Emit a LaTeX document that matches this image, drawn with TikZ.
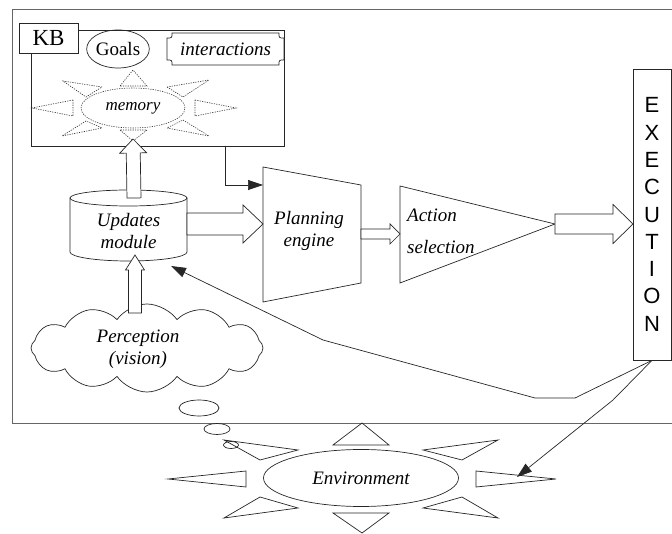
\documentclass[tikz,border=0pt]{standalone}
\usepackage{fontspec}
\setmainfont{Liberation Serif}
\newfontfamily\arialf{Liberation Sans}
\usetikzlibrary{calc,shapes.geometric,shapes.symbols,arrows.meta}

\newcommand\blockarrow[5]{%
  \coordinate (ba-hb) at ($(#2)!#5!(#1)$);
  \draw[barrow] ($(#1)!#3!90:(#2)$) -- ($(ba-hb)!#3!90:(#2)$) -- ($(ba-hb)!#4!90:(#2)$) -- (#2)
    -- ($(ba-hb)!#4!-90:(#2)$) -- ($(ba-hb)!#3!-90:(#2)$) -- ($(#1)!#3!-90:(#2)$) -- cycle;
}

\tikzset{
  ln/.style={draw=black!85, line width=0.7pt},
  barrow/.style={ln, fill=white, line join=miter},
  ray/.style={ln},
  dray/.style={draw=black!80, line width=0.6pt, dash pattern=on 1.2pt off 1.2pt},
  txt/.style={font=\fontsize{19}{22}\selectfont, align=center, inner sep=0pt},
  fb/.style={ln, -{Triangle[length=15pt,width=10pt]}},
}

\begin{document}
\begin{tikzpicture}[x=1pt,y=-1pt]
\useasboundingbox (0,0) rectangle (672,534);

% outer frame
\draw[draw=black!60, line width=1pt] (672,10) -- (12,10) -- (12,423) -- (672,423);

% KB box
\draw[ln] (31,30) rectangle (284,146);
\node[ln, fill=white, minimum width=59pt, minimum height=30pt, inner sep=0pt,
      font=\fontsize{23}{26}\selectfont] (kb) at (48.5,38) {KB};

% Goals
\node[ln, ellipse, minimum width=58pt, minimum height=38pt, inner sep=0pt,
      font=\fontsize{19}{22}\selectfont] (goals) at (118,49) {Goals};

% interactions plaque
\draw[ln] (172,33) -- (279,33) .. controls (279,38) .. (284,38) -- (284,60)
  .. controls (279,60) .. (279,65) -- (172,65) .. controls (172,60) .. (167,60)
  -- (167,38) .. controls (172,38) .. (172,33) -- cycle;
\node[txt, font=\fontsize{19}{22}\selectfont\itshape] (inter) at (225.5,49) {interactions};

% memory sun (dotted)
\node[dray, ellipse, minimum width=104pt, minimum height=40pt, inner sep=0pt,
      font=\fontsize{17}{20}\selectfont\itshape] (mem) at (133,108) {memory};
\draw[dray] (120,86)--(133,70)--(147,86)--cycle;
\draw[dray] (120,130)--(133,141)--(147,130)--cycle;
\draw[dray] (73,100)--(32,108)--(73,116)--cycle;
\draw[dray] (195,100)--(236,108)--(195,116)--cycle;
\draw[dray] (102,87)--(63,81)--(86,97)--cycle;
\draw[dray] (167,87)--(209,80)--(183,97)--cycle;
\draw[dray] (86,121)--(62,136)--(102,128)--cycle;
\draw[dray] (183,120)--(209,136)--(167,128)--cycle;

% Updates module cylinder
\draw[ln] (70,198) -- (70,252) arc[start angle=180, end angle=0, x radius=58.5, y radius=9] -- (187,198);
\draw[ln] (128.5,198) ellipse [x radius=58.5, y radius=8];
\node[txt, font=\fontsize{19}{22}\selectfont\itshape] (cyl) at (128.5,231) {Updates\\module};

% Planning engine
\draw[ln] (263,167) -- (361,185) -- (361,283) -- (263,302) -- cycle;
\node[txt, font=\fontsize{19}{22}\selectfont\itshape] (plan) at (309,231) {Planning\\engine};

% Action selection
\draw[ln] (400,186) -- (555,224) -- (400,283) -- cycle;
\node[txt, anchor=west, font=\fontsize{19}{22}\selectfont\itshape] (act1) at (407,215) {Action};
\node[txt, anchor=west, font=\fontsize{19}{22}\selectfont\itshape] (act2) at (407,247) {selection};

% EXECUTION
\node[ln, minimum width=38pt, minimum height=291pt, inner sep=0pt, align=center,
      font=\arialf\fontsize{22}{27.3}\selectfont] (exec) at (652,214.5)
      {E\\X\\E\\C\\U\\T\\I\\O\\N};

% Perception cloud
\node[ln, cloud, cloud puffs=12, cloud puff arc=110, cloud ignores aspect,
      minimum width=232pt, minimum height=88pt, inner sep=0pt] (cloud) at (147,348) {};
\node[txt, font=\fontsize{19}{22}\selectfont\itshape] (perc) at (138,349) {Perception\\(vision)};

% thought bubbles
\draw[ln] (199,408) ellipse [x radius=20, y radius=8];
\draw[ln] (217,429) ellipse [x radius=13, y radius=5.5];
\draw[ln] (231,445) ellipse [x radius=7.5, y radius=3.5];

% Environment sun
\node[ln, ellipse, minimum width=195pt, minimum height=57pt, inner sep=0pt,
      font=\fontsize{19}{22}\selectfont\itshape] (env) at (361,478) {Environment};
\draw[ray] (333,445)--(362,423)--(389,445)--cycle;
\draw[ray] (333,513)--(362,533)--(389,513)--cycle;
\draw[ray] (246,471)--(168,479)--(246,487)--cycle;
\draw[ray] (476,471)--(556,479)--(476,487)--cycle;
\draw[ray] (298,450)--(224,440)--(260,460)--cycle;
\draw[ray] (423,450)--(498,440)--(462,460)--cycle;
\draw[ray] (260,497)--(224,518)--(298,508)--cycle;
\draw[ray] (462,497)--(498,518)--(423,508)--cycle;

% block arrows
\coordinate (u1s) at (134,198);  \coordinate (u1t) at (133,139);
\coordinate (u2s) at (187,224);  \coordinate (u2t) at (263,224);
\coordinate (u3s) at (135,313);  \coordinate (u3t) at (135,255);
\coordinate (u4s) at (361,234);  \coordinate (u4t) at (400,234);
\coordinate (u5s) at (555,224);  \coordinate (u5t) at (633,224);
\blockarrow{u1s}{u1t}{7pt}{13.5pt}{14pt}
\blockarrow{u2s}{u2t}{11pt}{19pt}{20pt}
\blockarrow{u3s}{u3t}{6.5pt}{9.5pt}{15pt}
\blockarrow{u4s}{u4t}{5pt}{10pt}{10pt}
\blockarrow{u5s}{u5t}{10pt}{19.5pt}{20pt}

% line connectors
\coordinate (kbout) at (225,146);
\coordinate (planin) at (263,185);
\draw[fb] (kbout) |- (planin);

\coordinate (fb1) at (575,398);
\coordinate (fb2) at (535,398);
\coordinate (fb3) at (323,340);
\coordinate (cylin) at (171,266);
\draw[fb] (exec.south) -- (fb1) -- (fb2) -- (fb3) -- (cylin);

\coordinate (ev1) at (613,400);
\coordinate (envin) at (517,477);
\draw[fb] (exec.south) -- (ev1) -- (envin);
\end{tikzpicture}
\end{document}
